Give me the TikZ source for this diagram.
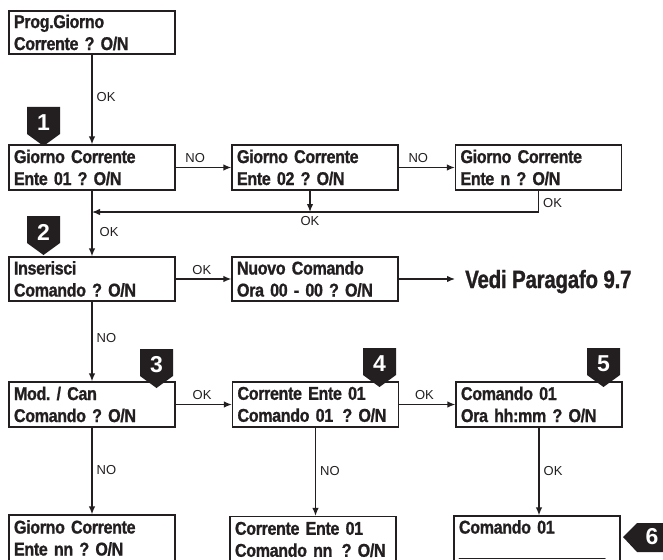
\documentclass[tikz,border=0pt]{standalone}
\usepackage{fontspec}
\usepackage{tikz}
\usetikzlibrary{arrows.meta}
\setmainfont{Liberation Sans}
\newfontfamily\boxfont{Liberation Sans}[FakeStretch=0.87,LetterSpace=-2,WordSpace=0.3,FakeBold=1]
\newfontfamily\vedifont{Liberation Sans}[FakeStretch=0.82,LetterSpace=-1,FakeBold=1]
\definecolor{inkblack}{HTML}{231F20}
\definecolor{paperwhite}{HTML}{FFFFFF}

\begin{document}
\begin{tikzpicture}[x=1pt,y=-1pt,
    box/.style={draw=inkblack,line width=1.3pt,rectangle,minimum width=166pt,minimum height=45pt,
      text width=156pt,inner xsep=5pt,inner ysep=0pt,align=left,text=inkblack,
      font=\boxfont\fontsize{18.5}{22}\selectfont\bfseries},
    lbl/.style={font=\fontsize{13}{13}\selectfont,text=inkblack,inner sep=1pt},
    conn/.style={draw=inkblack,line width=1.3pt,-{Latex[length=8pt,width=6.5pt]}},
    badge/.style={fill=inkblack,draw=none},
    num/.style={font=\fontsize{23}{23}\selectfont\bfseries,text=paperwhite,inner sep=0pt}]
    \useasboundingbox (0,0) rectangle (663,559);
    \fill[paperwhite] (0,0) rectangle (663,559);
    \clip (0,0) rectangle (663,559);
    % boxes, top rows
    \node[box,minimum height=43pt] (prog) at (92,32.5) {Prog.Giorno\\Corrente~?~O/N};
    \node[box] (g1) at (92,167.5) {Giorno Corrente\\Ente~01~?~O/N};
    \node[box] (g2) at (315,167.5) {Giorno Corrente\\Ente~02~?~O/N};
    \node[box] (gn) at (538.5,167.5) {Giorno Corrente\\Ente~n~?~O/N};
    \node[box,minimum height=44pt] (ins) at (92,279) {Inserisci\\Comando~?~O/N};
    \node[box,minimum height=44pt] (nuovo) at (315,279) {Nuovo Comando\\Ora~00~-~00~?~O/N};
    \node[anchor=base west,inner xsep=10pt,inner ysep=0pt,text=inkblack,
      font=\vedifont\fontsize{25}{25}\selectfont\bfseries] (vedi) at (455,288) {Vedi Paragafo 9.7};
    % boxes, bottom rows
    \node[box] (mod) at (92,404.5) {Mod.~/~Can\\Comando~?~O/N};
    \node[box] (corr) at (315.5,404.5) {Corrente~Ente~01\\Comando~01~\,?~O/N};
    \node[box] (cmd) at (539,404.5) {Comando~01\\Ora~hh:mm~?~O/N};
    \node[box,minimum height=46pt] (gnn) at (92,538) {Giorno Corrente\\Ente~nn~?~O/N};
    \node[box,minimum height=46pt] (cnn) at (313,539.5) {Corrente~Ente~01\\Comando~nn~\,?~O/N};
    \node[box,minimum height=47pt] (c6) at (537,539.5) {Comando~01\\[1pt]\_\_\_\_\_\_\_\_\_\_\_\_\_\_\_\_\_};
    % badges
    \fill[badge] (27,107)--(60,107)--(60,134)--(43.5,146)--(27,134)--cycle; \node[num] (n1) at (43.5,123) {1};
    \fill[badge] (27,216)--(60,216)--(60,243)--(43.5,255)--(27,243)--cycle; \node[num] (n2) at (43.5,232) {2};
    \fill[badge] (140,349)--(173,349)--(173,376)--(156.5,388)--(140,376)--cycle; \node[num] (n3) at (156.5,364.5) {3};
    \fill[badge] (363,348)--(396,348)--(396,375)--(379.5,387)--(363,375)--cycle; \node[num] (n4) at (379.5,363.5) {4};
    \fill[badge] (587,348)--(620,348)--(620,375)--(603.5,387)--(587,375)--cycle; \node[num] (n5) at (603.5,363.5) {5};
    \fill[badge] (623,537)--(637,523)--(670,523)--(670,552)--(637,552)--cycle; \node[num] (n6) at (652,537) {6};
    % connectors
    \coordinate (mg) at (92,212);
    \coordinate (m2) at (310,212);
    \draw[conn] (prog) -- node[lbl,right=3pt,pos=.47] (ok1) {OK} (g1);
    \draw[conn] (g1) -- node[lbl,above=3pt,pos=.35] (no1) {NO} (g2);
    \draw[conn] (g2) -- node[lbl,above=3pt,pos=.35] (no2) {NO} (gn);
    \draw[conn] (gn.south) |- node[lbl,right=3pt,pos=.3] (ok3) {OK} (mg);
    \draw[conn] (g2.south -| m2) -- node[lbl,below=3pt,pos=1] (ok2) {OK} (m2);
    \draw[conn] (g1) -- node[lbl,right=6pt,pos=.63] (ok4) {OK} (ins);
    \draw[conn] (ins) -- node[lbl,above=3pt,pos=.47] (ok5) {OK} (nuovo);
    \draw[conn] (nuovo.east) -- (nuovo.east -| vedi.west);
    \draw[conn] (ins) -- node[lbl,right=3pt,pos=.46] (no3) {NO} (mod);
    \draw[conn] (mod) -- node[lbl,above=3pt,pos=.47] (ok6) {OK} (corr);
    \draw[conn] (corr) -- node[lbl,above=3pt,pos=.45] (ok7) {OK} (cmd);
    \draw[conn] (mod) -- node[lbl,right=3pt,pos=.49] (no4) {NO} (gnn);
    \draw[conn] (corr.south) -- node[lbl,right=3pt,pos=.49] (no5) {NO} (corr.south |- cnn.north);
    \draw[conn] (cmd.south) -- node[lbl,right=3pt,pos=.49] (ok8) {OK} (cmd.south |- c6.north);
\end{tikzpicture}
\end{document}
